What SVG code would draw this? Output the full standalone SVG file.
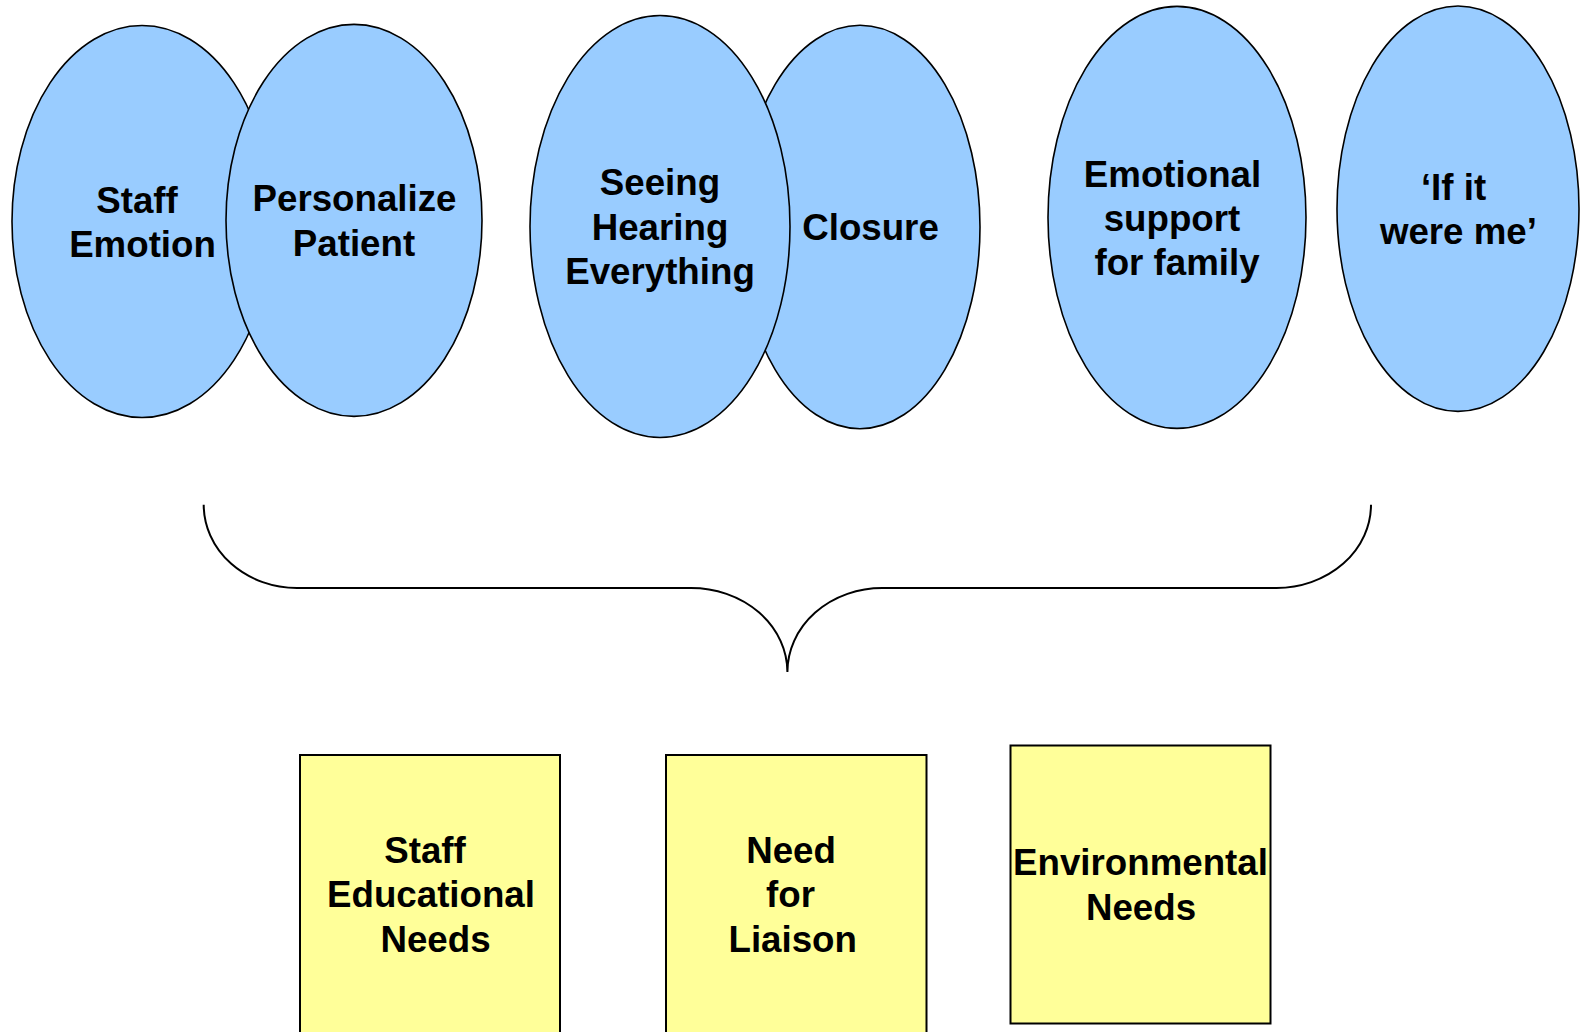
<svg xmlns="http://www.w3.org/2000/svg" width="1589" height="1032" viewBox="0 0 1589 1032">
  <style>
    .oval { fill: #99CCFF; stroke: #000; stroke-width: 1.6; }
    .box { fill: #FFFF99; stroke: #000; stroke-width: 2; }
    .lbl { font-family: "Liberation Sans", Arial, sans-serif; font-weight: bold; font-size: 36.7px; fill: #000; text-anchor: middle; }
    .brace { fill: none; stroke: #000; stroke-width: 2; }
  </style>
  <rect x="0" y="0" width="1589" height="1032" fill="#fff"/>

  <!-- top row of themes -->
  <g id="staff-emotion">
    <ellipse class="oval" cx="142" cy="221.5" rx="130" ry="196"/>
    <text class="lbl" x="137" y="212.7">Staff</text>
    <text class="lbl" x="142.5" y="257.3">Emotion</text>
  </g>
  <g id="personalize-patient">
    <ellipse class="oval" cx="354" cy="220.4" rx="128" ry="196"/>
    <text class="lbl" x="354.5" y="210.7">Personalize</text>
    <text class="lbl" x="354" y="256.3">Patient</text>
  </g>
  <g id="closure">
    <ellipse class="oval" cx="860" cy="227" rx="120" ry="201.7"/>
    <text class="lbl" x="870.5" y="240">Closure</text>
  </g>
  <g id="seeing-hearing">
    <ellipse class="oval" cx="660" cy="226.5" rx="130" ry="211"/>
    <text class="lbl" x="660" y="195">Seeing</text>
    <text class="lbl" x="660" y="239.6">Hearing</text>
    <text class="lbl" x="660" y="284.4">Everything</text>
  </g>
  <g id="family-support">
    <ellipse class="oval" cx="1177" cy="217.4" rx="129" ry="211"/>
    <text class="lbl" x="1172.5" y="187">Emotional</text>
    <text class="lbl" x="1172" y="231">support</text>
    <text class="lbl" x="1177" y="275">for family</text>
  </g>
  <g id="if-it-were-me">
    <ellipse class="oval" cx="1458" cy="208.7" rx="121" ry="202.7"/>
    <text class="lbl" x="1453.5" y="200">‘If it</text>
    <text class="lbl" x="1458.4" y="244">were me’</text>
  </g>

  <!-- brace gathering the themes -->
  <g id="connectors">
    <path class="brace" d="M 203.7 504.7 A 93.3 83.3 0 0 0 297 588 L 691 588 A 96.4 84 0 0 1 787.4 672 A 95 84 0 0 1 882.4 588 L 1276.5 588 A 94.5 83.3 0 0 0 1371 504.7"/>
  </g>

  <!-- bottom row of needs -->
  <g id="staff-educational-needs">
    <rect class="box" x="300" y="755" width="260" height="290"/>
    <text class="lbl" x="425" y="863">Staff</text>
    <text class="lbl" x="431" y="907">Educational</text>
    <text class="lbl" x="435.5" y="952">Needs</text>
  </g>
  <g id="need-for-liaison">
    <rect class="box" x="666" y="755" width="260.5" height="290"/>
    <text class="lbl" x="791" y="863">Need</text>
    <text class="lbl" x="790.5" y="907">for</text>
    <text class="lbl" x="792.7" y="952">Liaison</text>
  </g>
  <g id="environmental-needs">
    <rect class="box" x="1010.5" y="745.5" width="260" height="278"/>
    <text class="lbl" x="1140.5" y="875">Environmental</text>
    <text class="lbl" x="1141" y="920">Needs</text>
  </g>
</svg>
